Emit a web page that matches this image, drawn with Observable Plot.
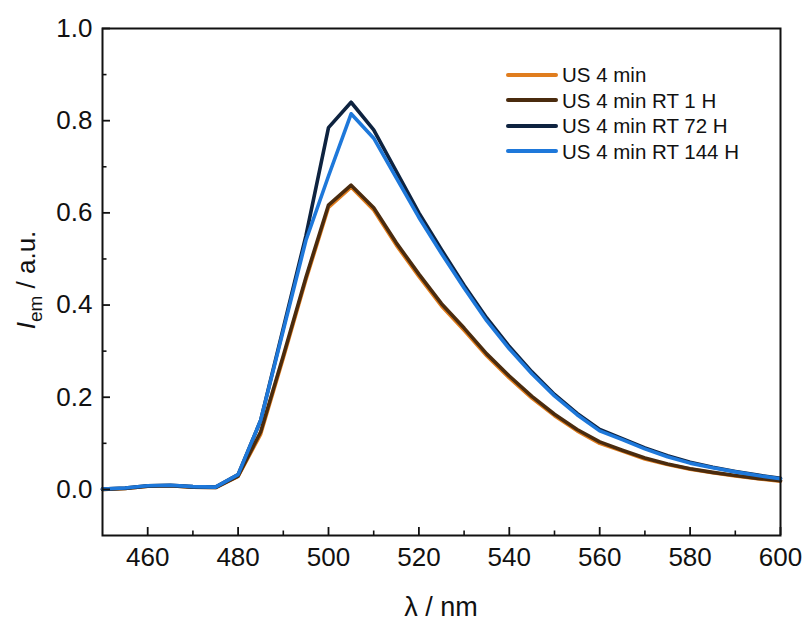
<!DOCTYPE html>
<html>
<head>
<meta charset="utf-8">
<script src="https://cdn.jsdelivr.net/npm/d3@7"></script>
<script src="https://cdn.jsdelivr.net/npm/@observablehq/plot@0.6"></script>
<style>
  html, body { margin: 0; padding: 0; background: #fff; }
  #wrap { position: relative; width: 808px; height: 623px; font-family: "Liberation Sans", Arial, sans-serif; }
  #legend { position: absolute; left: 505px; top: 62px; font-size: 20.5px; color: #111; line-height: 25.5px; }
  #legend .row { display: flex; align-items: center; white-space: nowrap; height: 25.5px; }
  #legend svg { margin-right: 3px; }
</style>
</head>
<body>
<div id="wrap"></div>
<script>
const wavelengths = [450,455,460,465,470,475,480,485,490,495,500,505,510,515,520,525,530,535,540,545,550,555,560,565,570,575,580,585,590,595,600];
const seriesNames = ["US 4 min", "US 4 min RT 1 H", "US 4 min RT 72 H", "US 4 min RT 144 H"];
const seriesColors = ["#E07D1E", "#4A2B0E", "#0E2340", "#1E78DA"];
const us4 =    [0.000,0.002,0.007,0.008,0.005,0.004,0.028,0.120,0.285,0.455,0.612,0.656,0.606,0.530,0.462,0.398,0.345,0.290,0.242,0.198,0.160,0.127,0.100,0.083,0.066,0.054,0.044,0.036,0.029,0.023,0.018];
const us4rt1 = [0.000,0.002,0.007,0.008,0.005,0.004,0.029,0.125,0.290,0.460,0.617,0.660,0.611,0.535,0.467,0.403,0.350,0.294,0.246,0.202,0.163,0.130,0.103,0.085,0.068,0.055,0.045,0.037,0.030,0.024,0.019];
const us4rt72 =[0.001,0.003,0.008,0.009,0.006,0.005,0.032,0.150,0.350,0.550,0.785,0.840,0.780,0.690,0.600,0.520,0.443,0.372,0.310,0.255,0.206,0.165,0.130,0.110,0.090,0.073,0.059,0.048,0.039,0.031,0.024];
const us4rt144=[0.001,0.003,0.008,0.009,0.006,0.005,0.032,0.150,0.345,0.540,0.680,0.815,0.762,0.676,0.590,0.512,0.437,0.366,0.305,0.251,0.203,0.162,0.127,0.108,0.088,0.071,0.057,0.047,0.038,0.030,0.023];
const seriesValues = [us4, us4rt1, us4rt72, us4rt144];
const yMajor = [0, 0.2, 0.4, 0.6, 0.8, 1.0];
const yMinor = [0.1, 0.3, 0.5, 0.7, 0.9];
const xMajor = [460, 480, 500, 520, 540, 560, 580, 600];
const xMinor = [470, 490, 510, 530, 550, 570, 590];

const rows = [];
seriesNames.forEach((name, i) => {
  wavelengths.forEach((w, j) => rows.push({series: name, wl: w, v: seriesValues[i][j]}));
});

const font = "Liberation Sans, Arial, sans-serif";
const plot = Plot.plot({
  width: 808,
  height: 623,
  marginLeft: 102,
  marginRight: 28,
  marginTop: 28,
  marginBottom: 88,
  style: {fontFamily: font, color: "#111", background: "#fff"},
  x: {domain: [450, 600], label: null},
  y: {domain: [-0.1, 1.0], label: null},
  color: {domain: seriesNames, range: seriesColors},
  marks: [
    ...seriesNames.map(name => Plot.line(rows.filter(d => d.series === name), {
      x: "wl", y: "v", stroke: "series", strokeWidth: 3.6, strokeLinejoin: "round", strokeLinecap: "round"
    })),
    Plot.axisX({ticks: xMajor, tickSize: -8, tickPadding: 20, tickFormat: d3.format("d"), stroke: "#111", strokeWidth: 1.8, label: null, fontSize: 26}),
    Plot.axisX({ticks: xMinor, tickSize: -4.5, tickFormat: () => "", stroke: "#111", strokeWidth: 1.6, label: null}),
    Plot.axisY({ticks: yMajor, tickSize: -8, tickPadding: 18, tickFormat: d3.format(".1f"), stroke: "#111", strokeWidth: 1.8, label: null, fontSize: 26}),
    Plot.axisY({ticks: yMinor, tickSize: -4.5, tickFormat: () => "", stroke: "#111", strokeWidth: 1.6, label: null}),
    Plot.frame({stroke: "#111", strokeWidth: 2})
  ]
});

const wrap = document.getElementById("wrap");
wrap.appendChild(plot);

// Axis titles
const svg = d3.select(plot);
svg.append("text")
  .attr("x", 102 + 678 / 2).attr("y", 616)
  .attr("text-anchor", "middle")
  .attr("font-family", font).attr("font-size", 27).attr("fill", "#111")
  .text("λ / nm");
const yl = svg.append("text")
  .attr("transform", "translate(35,280) rotate(-90)")
  .attr("text-anchor", "middle")
  .attr("font-family", font).attr("font-size", 26).attr("fill", "#111");
yl.append("tspan").attr("font-style", "italic").text("I");
yl.append("tspan").attr("font-size", 19).attr("dy", 7).text("em");
yl.append("tspan").attr("dy", -7).text(" / a.u.");

// Legend
const legend = document.createElement("div");
legend.id = "legend";
seriesNames.forEach((name, i) => {
  const row = document.createElement("div");
  row.className = "row";
  row.innerHTML = `<svg width="54" height="10"><line x1="3" y1="5" x2="51" y2="5" stroke="${seriesColors[i]}" stroke-width="4" stroke-linecap="round"/></svg><span>${name}</span>`;
  legend.appendChild(row);
});
wrap.appendChild(legend);
</script>
</body>
</html>
